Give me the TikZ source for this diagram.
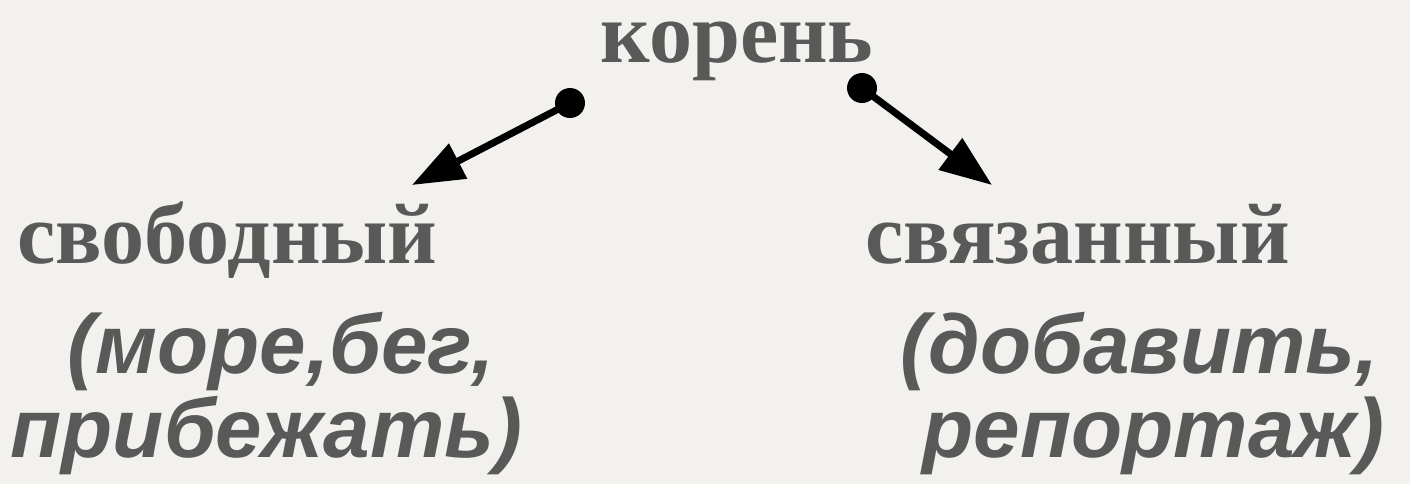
\documentclass[tikz,border=0pt]{standalone}
\usepackage{fontspec}
\setmainfont{Liberation Serif}
\newfontfamily\exfont{Liberation Sans}
\usetikzlibrary{arrows.meta}
\definecolor{paper}{HTML}{F2F1ED}
\definecolor{ink}{HTML}{595959}
\tikzset{
  head/.style={anchor=base west,inner sep=0,text=ink,font=\fontsize{24.5}{28}\selectfont\bfseries},
  example/.style={anchor=base west,inner sep=0,text=ink,font=\exfont\fontsize{23.8}{27}\selectfont\bfseries\itshape},
  dot/.style={circle,fill=black,inner sep=0,minimum size=0.3cm},
  link/.style={line width=2pt,-{Triangle[length=0.52cm,width=0.38cm]}}
}
\begin{document}
\begin{tikzpicture}
\fill[paper] (0,0) rectangle (14.1,-4.84);
\useasboundingbox (0,0) rectangle (14.1,-4.84);

\node[head] (root) at (6.0,-0.62) {корень};
\node[head] (free) at (0.17,-2.63) {свободный};
\node[head] (bound) at (8.65,-2.63) {связанный};

\node[example] (freeA) at (0.67,-3.73) {(море,бег,};
\node[example] (freeB) at (0.10,-4.57) {прибежать)};
\node[example] (boundA) at (9.00,-3.73) {(добавить,};
\node[example] (boundB) at (9.22,-4.57) {репортаж)};

\node[dot] (ldot) at (5.70,-1.03) {};
\node[dot] (rdot) at (8.62,-0.88) {};
\coordinate (ltip) at (4.12,-1.85);
\coordinate (rtip) at (9.92,-1.85);

\draw[link] (ldot.center) -- (ltip);
\draw[link] (rdot.center) -- (rtip);
\end{tikzpicture}
\end{document}
